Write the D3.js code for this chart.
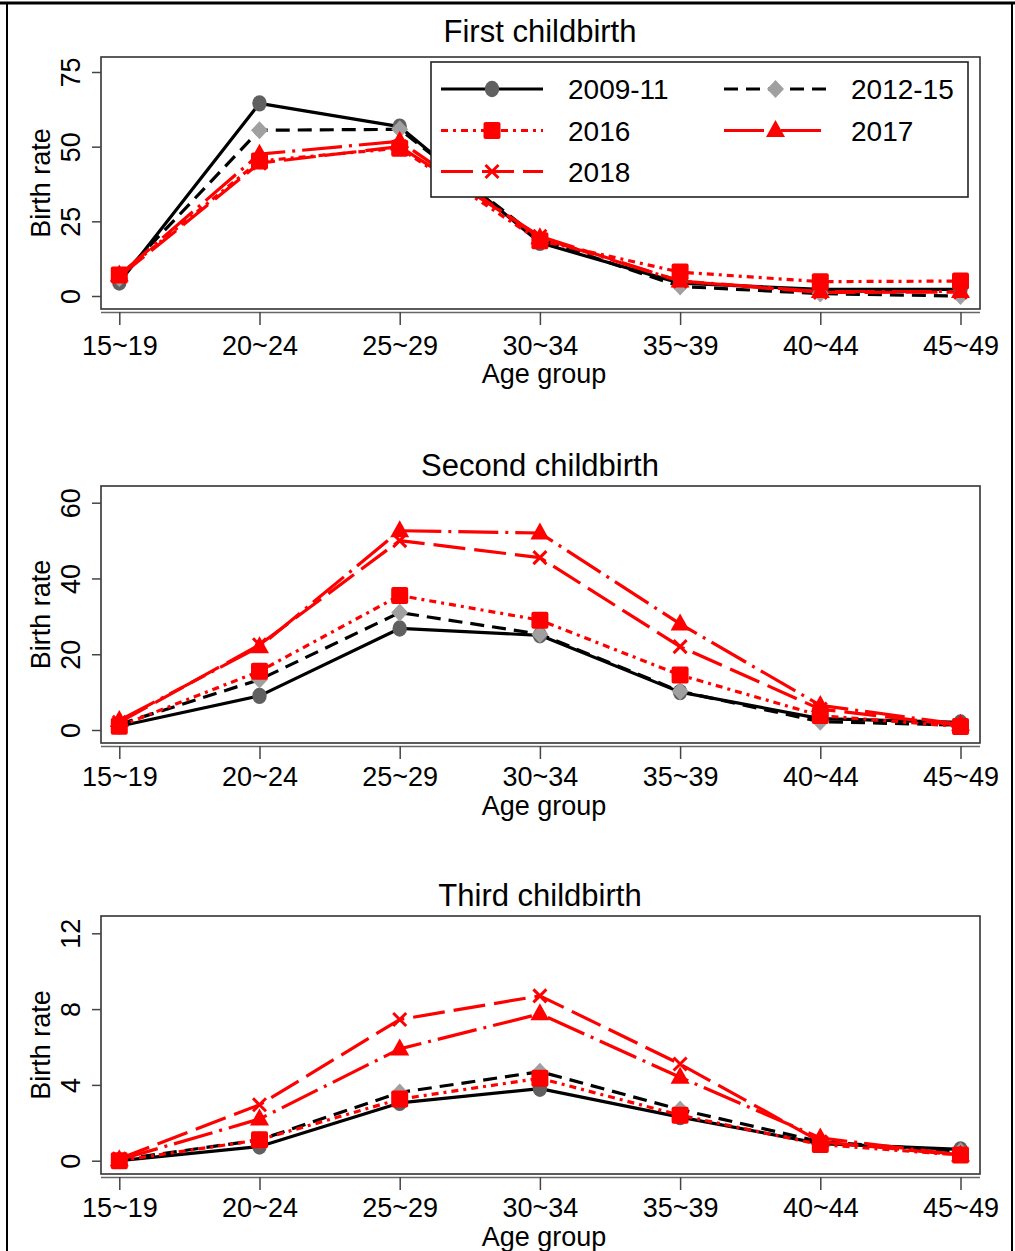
<!DOCTYPE html>
<html>
<head>
<meta charset="utf-8">
<script src="https://cdn.jsdelivr.net/npm/d3@7"></script>
<style>
  html, body { margin: 0; padding: 0; background: #fff; }
  svg { display: block; font-family: "Liberation Sans", Arial, sans-serif; }
</style>
</head>
<body>
<svg id="chart" width="1015" height="1251"></svg>
<script>
// Age groups on the x axis
const ageGroups = ["15~19", "20~24", "25~29", "30~34", "35~39", "40~44", "45~49"];

// Period labels (legend order)
const periods = ["2009-11", "2012-15", "2016", "2017", "2018"];

// First childbirth: birth rate by age group
const first2009_11 = [4.5, 64.5, 56.7, 17.8, 4.3, 2.2, 2.2];
const first2012_15 = [6.0, 55.5, 55.8, 19.0, 3.2, 0.8, 0.0];
const first2016    = [7.0, 45.2, 49.5, 18.5, 8.0, 4.8, 5.0];
const first2017    = [7.0, 47.5, 51.8, 19.5, 5.0, 1.5, 1.5];
const first2018    = [6.5, 44.5, 50.0, 20.0, 5.0, 1.2, 1.3];

// Second childbirth
const second2009_11 = [1.0, 9.0, 26.8, 25.0, 10.0, 3.0, 2.0];
const second2012_15 = [1.5, 13.3, 31.0, 25.3, 10.2, 2.2, 1.3];
const second2016    = [1.0, 15.5, 35.5, 29.0, 14.5, 3.8, 0.9];
const second2017    = [2.5, 22.0, 52.6, 52.0, 28.0, 6.5, 1.5];
const second2018    = [2.0, 22.5, 50.0, 45.5, 22.0, 5.5, 1.2];

// Third childbirth
const third2009_11 = [0.0, 0.75, 3.05, 3.8, 2.3, 0.9, 0.6];
const third2012_15 = [0.05, 1.1, 3.6, 4.7, 2.7, 1.0, 0.5];
const third2016    = [0.0, 1.1, 3.25, 4.35, 2.4, 0.85, 0.3];
const third2017    = [0.05, 2.2, 5.9, 7.75, 4.4, 1.2, 0.3];
const third2018    = [0.1, 2.95, 7.45, 8.7, 5.1, 1.0, 0.3];

// Y tick values per panel
const firstTicks  = [0, 25, 50, 75];
const secondTicks = [0, 20, 40, 60];
const thirdTicks  = [0, 4, 8, 12];

const panelTitles = ["First childbirth", "Second childbirth", "Third childbirth"];

// Line / marker style per period
const styles = {
  "2009-11": { stroke: "#000", dash: null,          marker: "circle" },
  "2012-15": { stroke: "#000", dash: "14,8",        marker: "diamond" },
  "2016":    { stroke: "#f00", dash: "7,5,3,5",     marker: "square" },
  "2017":    { stroke: "#f00", dash: "40,7,3,7",    marker: "triangle" },
  "2018":    { stroke: "#f00", dash: "32,9",        marker: "x" }
};

const panels = [
  { title: panelTitles[0], ticks: firstTicks,
    series: [first2009_11, first2012_15, first2016, first2017, first2018],
    top: 57, bottom: 309, zeroY: 296, maxY: 72, titleY: 42, tickLabelY: 355, axisTitleY: 383 },
  { title: panelTitles[1], ticks: secondTicks,
    series: [second2009_11, second2012_15, second2016, second2017, second2018],
    top: 486, bottom: 743, zeroY: 730, maxY: 502.7, titleY: 476, tickLabelY: 786, axisTitleY: 815 },
  { title: panelTitles[2], ticks: thirdTicks,
    series: [third2009_11, third2012_15, third2016, third2017, third2018],
    top: 916, bottom: 1174, zeroY: 1160.7, maxY: 933.3, titleY: 906, tickLabelY: 1217, axisTitleY: 1246 }
];

const svg = d3.select("#chart");
const plotLeft = 101, plotRight = 980;

// Outer border of the figure
svg.append("line").attr("x1", 0).attr("x2", 1015).attr("y1", 3).attr("y2", 3)
  .attr("stroke", "#000").attr("stroke-width", 3);
svg.append("line").attr("x1", 7).attr("x2", 7).attr("y1", 2).attr("y2", 1251)
  .attr("stroke", "#000").attr("stroke-width", 2);
svg.append("line").attr("x1", 1012).attr("x2", 1012).attr("y1", 2).attr("y2", 1251)
  .attr("stroke", "#000").attr("stroke-width", 2);

const x = d3.scalePoint().domain(ageGroups).range([119.3, 960.5]);

function drawMarker(g, type, cx, cy) {
  if (type === "circle") {
    g.append("ellipse").attr("cx", cx).attr("cy", cy).attr("rx", 7.2).attr("ry", 8.2)
      .attr("fill", "#606060");
  } else if (type === "diamond") {
    g.append("path")
      .attr("d", `M${cx},${cy - 9}L${cx + 8.5},${cy}L${cx},${cy + 9}L${cx - 8.5},${cy}Z`)
      .attr("fill", "#a0a0a0");
  } else if (type === "square") {
    g.append("rect").attr("x", cx - 8.5).attr("y", cy - 8.5).attr("width", 17).attr("height", 17)
      .attr("rx", 2).attr("fill", "#f00");
  } else if (type === "triangle") {
    g.append("path")
      .attr("d", `M${cx},${cy - 10.5}L${cx + 9.5},${cy + 6.5}L${cx - 9.5},${cy + 6.5}Z`)
      .attr("fill", "#f00");
  } else if (type === "x") {
    g.append("path")
      .attr("d", `M${cx - 6.5},${cy - 6.5}L${cx + 6.5},${cy + 6.5}M${cx - 6.5},${cy + 6.5}L${cx + 6.5},${cy - 6.5}`)
      .attr("stroke", "#f00").attr("stroke-width", 3).attr("fill", "none");
  }
}

panels.forEach(p => {
  const maxTick = p.ticks[p.ticks.length - 1];
  const y = d3.scaleLinear().domain([0, maxTick]).range([p.zeroY, p.maxY]);
  const g = svg.append("g");

  // Panel title
  g.append("text").attr("x", 540).attr("y", p.titleY).attr("text-anchor", "middle")
    .attr("font-size", 31).attr("fill", "#000").text(p.title);

  // Plot region frame
  g.append("rect").attr("x", plotLeft).attr("y", p.top)
    .attr("width", plotRight - plotLeft).attr("height", p.bottom - p.top)
    .attr("fill", "#fff").attr("stroke", "#333").attr("stroke-width", 1.6);

  // Y axis ticks and rotated labels
  const yAxis = d3.axisLeft(y).tickValues(p.ticks).tickSize(9).tickFormat(d3.format("d"));
  const ya = g.append("g").attr("transform", `translate(${plotLeft},0)`).call(yAxis);
  ya.select(".domain").remove();
  ya.selectAll(".tick line").attr("stroke", "#444").attr("stroke-width", 1.5);
  ya.selectAll(".tick text")
    .attr("font-size", 27).attr("fill", "#000").attr("font-family", null)
    .attr("x", null).attr("dy", null)
    .attr("text-anchor", "middle")
    .attr("transform", "translate(-21,0) rotate(-90)");

  g.append("text")
    .attr("transform", `translate(50,${(p.top + p.bottom) / 2}) rotate(-90)`)
    .attr("text-anchor", "middle").attr("font-size", 27).attr("fill", "#000")
    .text("Birth rate");

  // X axis below the frame
  const axisY = p.bottom + 3;
  const xAxis = d3.axisBottom(x).tickSize(13).tickSizeOuter(0);
  const xa = g.append("g").attr("transform", `translate(0,${axisY})`).call(xAxis);
  xa.select(".domain").attr("d", `M${plotLeft},0.5H${plotRight}`)
    .attr("stroke", "#666").attr("stroke-width", 1.5);
  xa.selectAll(".tick line").attr("stroke", "#444").attr("stroke-width", 1.5);
  xa.selectAll(".tick text").attr("font-size", 27).attr("fill", "#000")
    .attr("font-family", null).attr("dy", null)
    .attr("y", p.tickLabelY - axisY);

  g.append("text").attr("x", 544).attr("y", p.axisTitleY).attr("text-anchor", "middle")
    .attr("font-size", 27).attr("fill", "#000").text("Age group");

  // Series lines
  const line = d3.line().x((d, i) => x(ageGroups[i])).y(d => y(d));
  const lineG = g.append("g");
  p.series.forEach((vals, si) => {
    const st = styles[periods[si]];
    lineG.append("path").datum(vals).attr("d", line)
      .attr("fill", "none").attr("stroke", st.stroke).attr("stroke-width", 3.2)
      .attr("stroke-dasharray", st.dash)
      .attr("stroke-linejoin", "round");
  });
  // Series markers
  const markG = g.append("g");
  p.series.forEach((vals, si) => {
    const st = styles[periods[si]];
    vals.forEach((v, i) => drawMarker(markG, st.marker, x(ageGroups[i]), y(v)));
  });
});

// Legend inside the first panel
const legend = svg.append("g");
legend.append("rect").attr("x", 431).attr("y", 62).attr("width", 537).attr("height", 135)
  .attr("fill", "#fff").attr("stroke", "#222").attr("stroke-width", 1.6);
const legendCols = [{ x1: 441, x2: 543, tx: 568 }, { x1: 724, x2: 827, tx: 851 }];
const legendRows = [89, 130.5, 171.5];
periods.forEach((name, i) => {
  const col = legendCols[i % 2], rowY = legendRows[Math.floor(i / 2)];
  const st = styles[name];
  legend.append("line").attr("x1", col.x1).attr("x2", col.x2).attr("y1", rowY).attr("y2", rowY)
    .attr("stroke", st.stroke).attr("stroke-width", 3.2).attr("stroke-dasharray", st.dash);
  drawMarker(legend, st.marker, (col.x1 + col.x2) / 2, rowY);
  legend.append("text").attr("x", col.tx).attr("y", rowY + 10).attr("font-size", 28)
    .attr("fill", "#000").text(name);
});
</script>
</body>
</html>
